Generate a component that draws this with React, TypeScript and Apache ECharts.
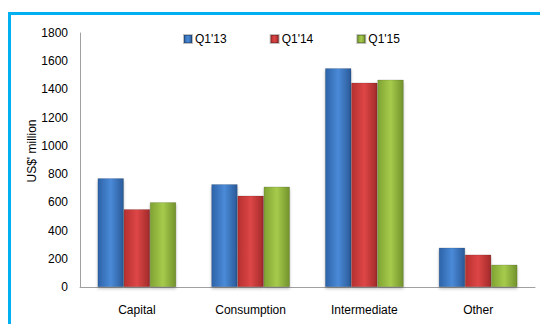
import React, { useEffect, useRef } from "react";
import * as echarts from "echarts";

const categories = ["Capital", "Consumption", "Intermediate", "Other"];
const seriesNames = ["Q1'13", "Q1'14", "Q1'15"];
const q113 = [770, 728, 1550, 279];
const q114 = [551, 647, 1448, 229];
const q115 = [600, 711, 1469, 158];
const yTicks = [0, 200, 400, 600, 800, 1000, 1200, 1400, 1600, 1800];

const FONT = "'Liberation Sans Narrow', 'Liberation Sans', sans-serif";

function grad(dark: string, mid: string, dark2: string) {
  return new echarts.graphic.LinearGradient(0, 0, 1, 0, [
    { offset: 0, color: dark },
    { offset: 0.5, color: mid },
    { offset: 1, color: dark2 },
  ]);
}

export default function App() {
  const ref = useRef<HTMLDivElement>(null);
  useEffect(() => {
    if (!ref.current) return;
    const chart = echarts.init(ref.current, undefined, { renderer: "svg" });
    const colors = [
      { solid: "#3b78c8", g: grad("#2d63a8", "#4a8ad8", "#2a5a98") },
      { solid: "#d03c3c", g: grad("#b53030", "#de4646", "#a22a2a") },
      { solid: "#92bb3e", g: grad("#7fa332", "#a6cb4c", "#72922c") },
    ];
    const data = [q113, q114, q115];
    chart.setOption({
      animation: false,
      color: colors.map((c) => c.solid),
      textStyle: { fontFamily: FONT },
      graphic: [
        { type: "rect", shape: { x: 8, y: 12, width: 532, height: 3 }, style: { fill: "#00b0f0" } },
        { type: "rect", shape: { x: 8, y: 12, width: 3, height: 312 }, style: { fill: "#00b0f0" } },
      ],
      legend: {
        data: seriesNames,
        left: 183,
        top: 33,
        padding: 0,
        itemWidth: 8,
        itemHeight: 8,
        itemGap: 43,
        icon: "rect",
        textStyle: { fontSize: 12, color: "#000", fontFamily: FONT, padding: [0, 0, 0, -2] },
      },
      grid: { left: 80, right: 5, top: 33, bottom: 37 },
      xAxis: {
        type: "category",
        data: categories,
        axisLine: { lineStyle: { color: "#a0a0a0" } },
        axisTick: { show: false },
        axisLabel: { color: "#000", fontSize: 12, margin: 17, fontFamily: FONT },
      },
      yAxis: {
        type: "value",
        min: 0,
        max: 1800,
        interval: 200,
        name: "US$' million",
        nameLocation: "middle",
        nameGap: 42,
        nameMoveOverlap: false,
        nameTextStyle: { color: "#000", fontSize: 12, fontFamily: FONT, padding: [0, 0, 0, 18] },
        axisLine: { show: true, lineStyle: { color: "#a0a0a0" } },
        axisTick: { show: false },
        splitLine: { show: false },
        axisLabel: {
          color: "#000",
          fontSize: 12,
          margin: 12,
          fontFamily: FONT,
          formatter: (v: number) => (yTicks.includes(v) ? String(v) : ""),
        },
      },
      series: seriesNames.map((name, i) => ({
        name,
        type: "bar",
        data: data[i],
        barGap: "0%",
        barCategoryGap: "31%",
        itemStyle: {
          color: colors[i].g,
          borderColor: "rgba(0,0,0,0.25)",
          borderWidth: 0.5,
          shadowColor: "rgba(0,0,0,0.25)",
          shadowBlur: 3,
          shadowOffsetY: 2,
        },
      })),
    });
    return () => chart.dispose();
  }, []);
  return (
    <div
      ref={ref}
      style={{ position: "fixed", left: 0, top: 0, width: 540, height: 324, background: "#fff" }}
    />
  );
}
